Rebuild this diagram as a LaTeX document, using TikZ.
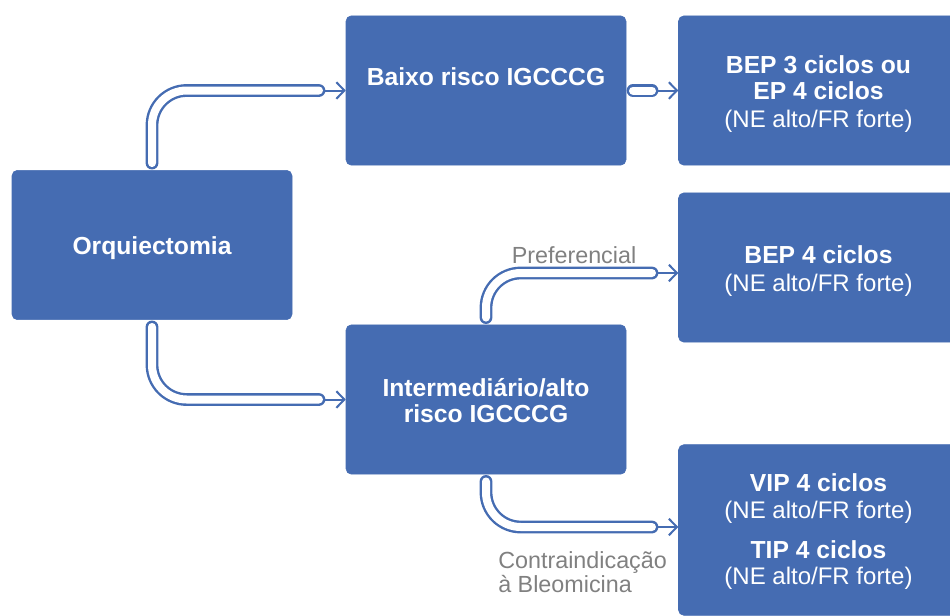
\documentclass[tikz,border=0pt]{standalone}
\usepackage{fontspec}
\setmainfont{Liberation Sans}
\usetikzlibrary{arrows.meta,calc}
\definecolor{boxblue}{RGB}{69,108,178}
\definecolor{lblgray}{RGB}{128,128,128}
\newcommand\subtxt{\fontsize{18pt}{20.5pt}\selectfont\mdseries}
\begin{document}
\begin{tikzpicture}[x=0.75pt,y=-0.75pt,
  box/.style={fill=boxblue,draw=boxblue,rounded corners=4pt,inner sep=0pt,
    minimum width=210pt,minimum height=112pt},
  txt/.style={text=white,align=center,inner sep=0pt,
    font=\fontsize{18.5pt}{19.5pt}\selectfont\bfseries},
  tube/.style={draw=boxblue,line width=1.8pt,double=white,double distance=6pt,
    line cap=round,rounded corners=26pt},
  arr/.style={draw=boxblue,line width=1.5pt,-{Straight Barb[length=6pt,width=12.5pt,line width=1.5pt]}},
  lbl/.style={text=lblgray,font=\fontsize{17.5pt}{17.5pt}\selectfont,inner sep=0pt}]
\useasboundingbox (0,0) rectangle (950,615);
\clip (0,0) rectangle (950,615);
% boxes
\node[box] (orq) at (152,245) {};
\node[box] (baixo) at (486,90.5) {};
\node[box] (inter) at (486,399.5) {};
\node[box] (bep3) at (818.5,90.5) {};
\node[box] (bep4) at (818.5,267.5) {};
\node[box,minimum height=128pt] (vip) at (818.5,530) {};
% texts
\node[txt] (orqt) at ($(orq)+(0,3)$) {Orquiectomia};
\node[txt] (baixot) at ($(baixo)+(0,-13.5)$) {Baixo risco IGCCCG};
\node[txt] (intert) at ($(inter)+(0,1)$) {Intermediário/alto\\risco IGCCCG};
\node[txt] (bep3t) at ($(bep3)+(0,3.5)$) {BEP 3 ciclos ou\\EP 4 ciclos\\[1pt]{\subtxt (NE alto/FR forte)}};
\node[txt] (bep4t) at ($(bep4)+(0,3.5)$) {BEP 4 ciclos\\[1pt]{\subtxt (NE alto/FR forte)}};
\node[txt] (vipt) at ($(vip)+(0,1.5)$) {VIP 4 ciclos\\[1pt]{\subtxt (NE alto/FR forte)}\\[10.5pt]TIP 4 ciclos\\[0pt]{\subtxt (NE alto/FR forte)}};
% connector ends
\coordinate (e1) at (319,90.5);
\coordinate (e2a) at (633,90.5);
\coordinate (e2) at (652,90.5);
\coordinate (e3) at (319,399.5);
\coordinate (e4) at (652,273);
\coordinate (e5) at (652,527);
% arrows
\draw[arr] (e1) -- (baixo.west);
\draw[arr] (e2) -- (bep3.west);
\draw[arr] (e3) -- (inter.west);
\draw[arr] (e4) -- (e4 -| bep4.west);
\draw[arr] (e5) -- (e5 -| vip.west);
% tubes
\draw[tube] ($(orq.north)+(0,-7)$) |- (e1);
\draw[tube] (e2a) -- (e2);
\draw[tube] ($(orq.south)+(0,7)$) |- (e3);
\draw[tube] ($(inter.north)+(0,-7)$) |- (e4);
\draw[tube] ($(inter.south)+(0,7)$) |- (e5);
% labels
\node[lbl] (pref) at (574,255) {Preferencial};
\node[lbl,anchor=west,align=left,font=\fontsize{17.5pt}{17.5pt}\selectfont] (contra) at (498,572) {Contraindicação\\à Bleomicina};
\end{tikzpicture}
\end{document}
